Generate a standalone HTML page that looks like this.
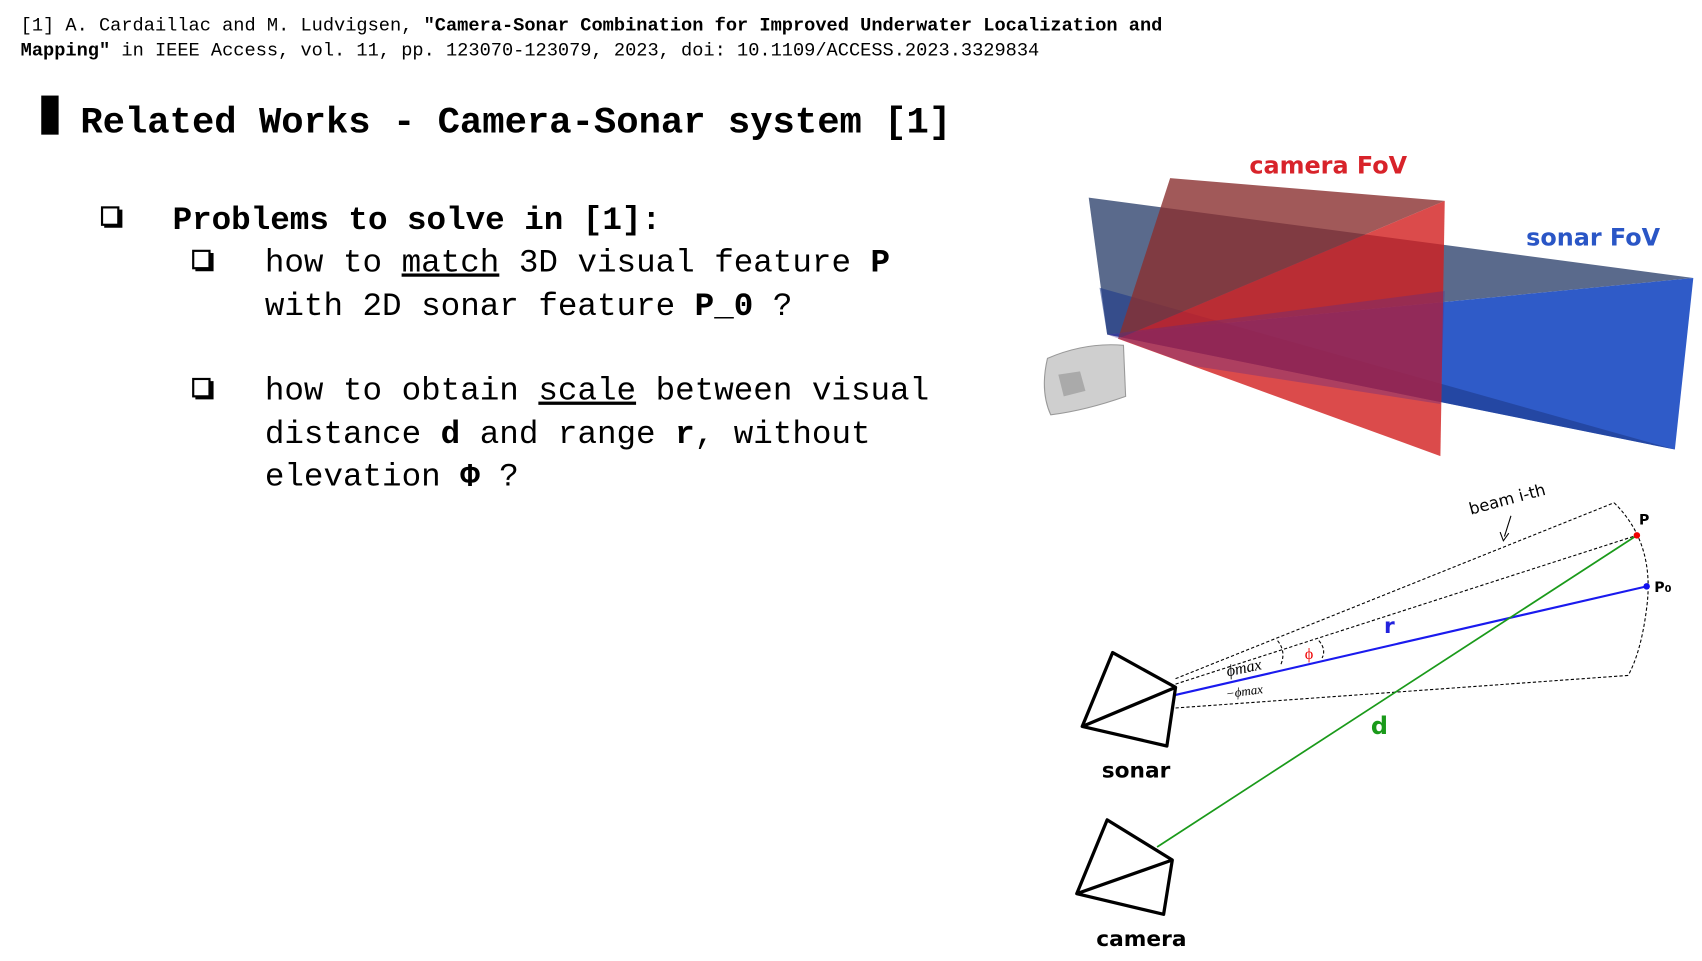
<!DOCTYPE html>
<html><head><meta charset="utf-8"><style>
html,body{margin:0;padding:0;background:#fff;width:1702px;height:961px;overflow:hidden}
svg{display:block}
.m{font-family:"Liberation Mono",monospace}
.s{font-family:"DejaVu Sans","Liberation Sans",sans-serif;font-weight:bold}
</style></head><body>
<svg width="1702" height="961" viewBox="0 0 1568 885" preserveAspectRatio="none">
<defs>
<g id="bx"><rect x="1" y="1" width="15" height="16" fill="#fff" stroke="#000" stroke-width="2"/><path d="M3,18 L18,18 L18,3" fill="none" stroke="#000" stroke-width="3.5"/></g>
</defs>
<g class="m" fill="#000">
<text x="19" y="28" font-size="17.2">[1] A. Cardaillac and M. Ludvigsen, <tspan font-weight="bold">"Camera-Sonar Combination for Improved Underwater Localization and</tspan></text>
<text x="19" y="51" font-size="17.2"><tspan font-weight="bold">Mapping"</tspan> in IEEE Access, vol. 11, pp. 123070-123079, 2023, doi: 10.1109/ACCESS.2023.3329834</text>
<rect x="38" y="88" width="16" height="36"/>
<text x="74" y="122" font-size="34.3" font-weight="bold">Related Works - Camera-Sonar system [1]</text>
<use href="#bx" x="93" y="190"/>
<text x="159" y="211" font-size="30" font-weight="bold">Problems to solve in [1]:</text>
<use href="#bx" x="177" y="230"/>
<text x="244" y="250" font-size="30">how to <tspan text-decoration="underline">match</tspan> 3D visual feature <tspan font-weight="bold">P</tspan></text>
<text x="244" y="290" font-size="30">with 2D sonar feature <tspan font-weight="bold">P_0</tspan> ?</text>
<use href="#bx" x="177" y="348"/>
<text x="244" y="368" font-size="30">how to obtain <tspan text-decoration="underline">scale</tspan> between visual</text>
<text x="244" y="408" font-size="30">distance <tspan font-weight="bold">d</tspan> and range <tspan font-weight="bold">r</tspan>, without</text>
<text x="244" y="447" font-size="30">elevation <tspan font-weight="bold">Φ</tspan> ?</text>
</g>
<!-- top figure -->
<polygon points="1003,182 1560,256 1020,308" fill="#5a6a8c"/>
<polygon points="1020,308 1560,256 1543,414" fill="#2f5bc8"/>
<polygon points="1013,265 1543,414 1020,308" fill="#1e3a8a" opacity="0.6"/>
<polygon points="1078,164 1331,185 1030,312" fill="#8a3030" opacity="0.8"/>
<polygon points="1030,312 1331,185 1327,420" fill="#d21e1e" opacity="0.8"/>
<polygon points="1020,308 1331,268 1327,372 1100,337" fill="#5a2a8a" opacity="0.35"/>
<path d="M965,330 Q1000,315 1035,318 L1037,365 Q1000,378 968,382 Q958,360 965,330Z" fill="#cfcfcf" stroke="#999"/>
<path d="M975,345 L995,342 L1000,360 L980,365Z" fill="#aaa"/>
<text x="1151" y="160" font-size="22" fill="#d8232a" class="s">camera FoV</text>
<text x="1406" y="226" font-size="22" fill="#2a56c6" class="s">sonar FoV</text>
<!-- bottom diagram -->
<g fill="none" stroke="#000" stroke-width="1" stroke-dasharray="3,2">
<line x1="1083" y1="625" x2="1487" y2="463"/>
<line x1="1083" y1="630" x2="1508" y2="493"/>
<line x1="1083" y1="652" x2="1500" y2="622"/>
<path d="M1487,463 Q1525,500 1517,560 Q1512,600 1500,622"/>
<path d="M1177,590 Q1185,600 1180,612"/>
<path d="M1215,590 Q1222,598 1218,606"/>
</g>
<line x1="1083" y1="640" x2="1517" y2="540" stroke="#1a1aee" stroke-width="2"/>
<line x1="1066" y1="780" x2="1508" y2="493" stroke="#1a9a1a" stroke-width="1.6"/>
<circle cx="1508" cy="493" r="3" fill="#e00"/>
<circle cx="1517" cy="540" r="3" fill="#11e"/>
<g fill="none" stroke="#000" stroke-width="3" stroke-linejoin="round">
<polygon points="1025,601 1083,633 1075,687 997,669"/><line x1="997" y1="669" x2="1083" y2="633"/>
<polygon points="1020,755 1080,792 1072,842 992,823"/><line x1="992" y1="823" x2="1080" y2="792"/>
</g>
<text x="1015" y="716" font-size="20" class="s">sonar</text>
<text x="1010" y="871" font-size="20" class="s">camera</text>
<text x="1355" y="474" font-size="15" font-family="DejaVu Sans,sans-serif" transform="rotate(-15 1355 474)">beam i-th</text>
<line x1="1392" y1="475" x2="1386" y2="494" stroke="#000"/><path d="M1382,490 L1385,498 L1390,491" fill="none" stroke="#000"/>
<text x="1510" y="483" font-size="13" class="s">P</text>
<text x="1524" y="545" font-size="13" class="s">P<tspan font-size="9">0</tspan></text>
<text x="1275" y="583" font-size="20" fill="#2222dd" class="s">r</text>
<text x="1263" y="676" font-size="22" fill="#1a9a1a" class="s">d</text>
<text x="1202" y="607" font-size="15" fill="#e00" font-family="Liberation Serif,serif">ϕ</text>
<text x="1131" y="623" font-size="15" font-family="Liberation Serif,serif" font-style="italic" transform="rotate(-12 1131 623)">ϕmax</text>
<text x="1130" y="643" font-size="12" font-family="Liberation Serif,serif" font-style="italic" transform="rotate(-8 1130 643)">−ϕmax</text>
</svg>
</body></html>
